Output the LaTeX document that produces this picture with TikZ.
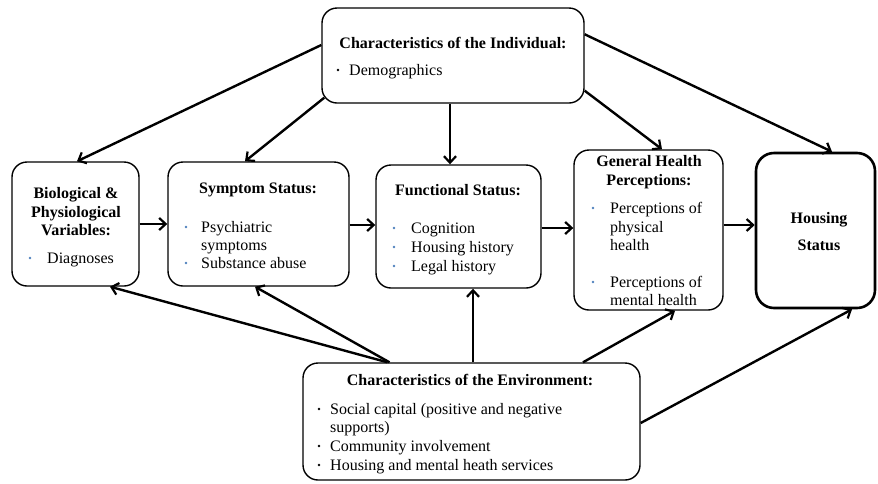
\documentclass[tikz,border=0pt]{standalone}
\usepackage{fontspec}
\setmainfont{Liberation Serif}
\usetikzlibrary{arrows.meta}
\definecolor{bulblue}{HTML}{4F81BD}
\begin{document}
\begin{tikzpicture}[x=1pt,y=-1pt,
  box/.style={draw=black,line width=1.4pt,rounded corners=15pt,inner sep=0pt},
  hbox/.style={draw=black,line width=2.6pt,rounded corners=18pt,inner sep=0pt},
  ttl/.style={anchor=base,inner sep=0pt,font=\fontsize{16}{19}\selectfont\bfseries},
  txt/.style={anchor=base west,inner sep=0pt,font=\fontsize{16}{19}\selectfont},
  bb/.style={circle,fill=bulblue,inner sep=0pt,minimum size=2.8pt},
  kb/.style={circle,fill=black,inner sep=0pt,minimum size=2.8pt},
  arr/.style={line width=2.4pt,-{Straight Barb[length=6.5pt,width=12pt,line width=2.2pt]}}]
\useasboundingbox (0,0) rectangle (878,483);

% boxes
\node[box,minimum width=262pt,minimum height=95pt] (ind) at (453,55.5) {};
\node[box,minimum width=127pt,minimum height=124pt] (bio) at (75.5,224) {};
\node[box,minimum width=181pt,minimum height=124pt] (sym) at (258.5,224) {};
\node[box,minimum width=165pt,minimum height=123pt] (fun) at (458.5,226.5) {};
\node[box,minimum width=149pt,minimum height=160pt] (gh) at (648.5,230) {};
\node[hbox,minimum width=119pt,minimum height=155pt] (hou) at (815.5,230.5) {};
\node[box,minimum width=337pt,minimum height=117pt] (env) at (471.5,421.5) {};

% individual
\node[ttl] (indt) at (453,48) {Characteristics of the Individual:};
\node[kb] (indb1) at (338,70) {};
\node[txt] (ind1) at (349,75) {Demographics};

% biological
\node[ttl] (biot1) at (76,198) {Biological \&};
\node[ttl] (biot2) at (76,217) {Physiological};
\node[ttl] (biot3) at (76,235) {Variables:};
\node[bb] (biob1) at (30,258) {};
\node[txt] (bio1) at (47,263) {Diagnoses};

% symptom
\node[ttl] (symt) at (258,193) {Symptom Status:};
\node[bb] (symb1) at (186,227) {};
\node[txt] (sym1) at (201,232) {Psychiatric};
\node[txt] (sym2) at (201,250) {symptoms};
\node[bb] (symb2) at (186,263) {};
\node[txt] (sym3) at (201,268) {Substance abuse};

% functional
\node[ttl] (funt) at (458,195) {Functional Status:};
\node[bb] (funb1) at (394,228) {};
\node[txt] (fun1) at (411,233) {Cognition};
\node[bb] (funb2) at (394,247) {};
\node[txt] (fun2) at (411,252) {Housing history};
\node[bb] (funb3) at (394,266) {};
\node[txt] (fun3) at (411,271) {Legal history};

% general health
\node[ttl] (ght1) at (649,166) {General Health};
\node[ttl] (ght2) at (649,185) {Perceptions:};
\node[bb] (ghb1) at (593,208) {};
\node[txt] (gh1) at (610,213) {Perceptions of};
\node[txt] (gh2) at (610,232) {physical};
\node[txt] (gh3) at (610,250) {health};
\node[bb] (ghb2) at (593,282) {};
\node[txt] (gh4) at (610,287) {Perceptions of};
\node[txt] (gh5) at (610,305) {mental health};

% housing
\node[ttl] (hout1) at (819,223) {Housing};
\node[ttl] (hout2) at (819,250) {Status};

% environment
\node[ttl] (envt) at (470,385) {Characteristics of the Environment:};
\node[kb] (envb1) at (319,409) {};
\node[txt] (env1) at (330,414) {Social capital (positive and negative};
\node[txt] (env2) at (330,432) {supports)};
\node[kb] (envb2) at (319,446) {};
\node[txt] (env3) at (330,451) {Community involvement};
\node[kb] (envb3) at (319,465) {};
\node[txt] (env4) at (330,470) {Housing and mental heath services};

% arrows from individual
\draw[arr] ([yshift=10.5pt]ind.west) -- ([xshift=1.5pt]bio.north);
\draw[arr] ([xshift=3pt,yshift=6pt]ind.south west) -- ([xshift=-13.5pt]sym.north);
\draw[arr] ([xshift=-3pt]ind.south) -- ([xshift=-8.5pt]fun.north);
\draw[arr] ([yshift=13pt]ind.south east) -- ([xshift=13.5pt]gh.north);
\draw[arr] ([yshift=-27pt]ind.north east) -- ([xshift=16.5pt]hou.north);

% horizontal chain
\draw[arr] (bio.east) -- (bio.east -| sym.west);
\draw[arr] ([yshift=-1pt]sym.east) -- ([yshift=-1pt]sym.east -| fun.west);
\draw[arr] ([yshift=-1.5pt]fun.east) -- ([yshift=-1.5pt]fun.east -| gh.west);
\draw[arr] ([yshift=5pt]gh.east) -- ([yshift=5pt]gh.east -| hou.west);

% arrows from environment
\draw[arr] ([xshift=-84pt]env.north) -- ([xshift=34.5pt]bio.south);
\draw[arr] ([xshift=-82pt]env.north) -- ([xshift=-3.5pt]sym.south);
\draw[arr] ([xshift=1.5pt]env.north) -- ([xshift=14.5pt]fun.south);
\draw[arr] ([xshift=111.5pt]env.north) -- ([xshift=26.5pt]gh.south);
\draw[arr] ([yshift=-1.5pt]env.east) -- ([xshift=36.5pt]hou.south);
\end{tikzpicture}
\end{document}
